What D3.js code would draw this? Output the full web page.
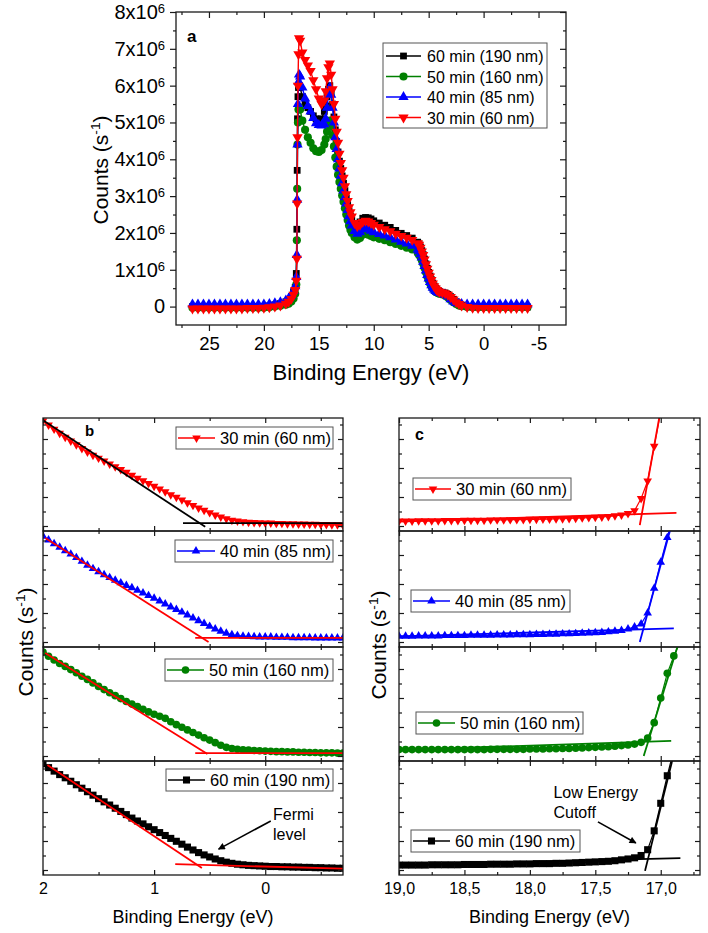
<!DOCTYPE html>
<html><head><meta charset="utf-8">
<script src="https://cdn.jsdelivr.net/npm/d3@7"></script>
<style>body{margin:0;background:#fff}svg{display:block}text{font-family:"Liberation Sans",Arial,Helvetica,sans-serif}</style>
</head><body>
<script>
// ---------------- DATA ----------------
// Panel a : binding energy (eV) and counts (x10^6 s^-1)
const aEnergy = [26.5,26,25.5,25,24.5,24,23.5,23,22.5,22,21.5,21,20.5,20,19.5,19,
  18.5,18,17.75,17.5,17.3,17.15,17.05,17.0,16.97,16.94,16.9,16.85,16.8,16.7,
  16.5,16.25,16,15.75,15.5,15.25,15,14.75,
  14.5,14.375,14.25,14.125,14,13.875,13.75,13.625,13.5,13.375,13.25,13.125,13,12.875,12.75,12.625,12.5,12.375,12.25,12.125,12,
  11.75,11.5,11.25,11,10.75,10.5,10.25,10,9.5,9,8.5,8,7.5,7,6.5,
  6,5.875,5.75,5.625,5.5,5.375,5.25,5.125,5,4.875,4.75,4.625,4.5,4.375,4.25,4.125,4,
  3.75,3.5,3.25,3,2.75,2.5,2.25,2,1.5,1,0.5,0,-0.5,-1,-1.5,-2,-2.5,-3,-3.5,-4];
const a60 = [0,0,0,0,0,0,0,0,0,0,0,0,0,0,0.02,0.05,
  0.08,0.13,0.18,0.27,0.40,0.52,0.90,2.10,3.70,5.10,5.70,5.95,6.00,5.95,
  5.70,5.50,5.40,5.30,5.18,5.10,5.05,5.10,
  5.30,5.45,5.70,5.90,6.00,5.80,5.50,5.15,4.80,4.48,4.20,3.95,3.75,3.55,3.35,3.15,2.95,2.77,2.60,2.46,2.35,
  2.23,2.20,2.30,2.40,2.42,2.41,2.38,2.33,2.27,2.21,2.15,2.07,1.99,1.93,1.86,
  1.75,1.70,1.62,1.52,1.41,1.29,1.16,1.04,0.93,0.83,0.73,0.64,0.56,0.50,0.46,0.43,0.41,
  0.39,0.37,0.33,0.27,0.20,0.13,0.08,0.04,0.00,-0.01,-0.01,-0.01,-0.01,-0.01,-0.01,-0.01,-0.01,-0.01,-0.01,-0.01];
const a50 = [-0.03,-0.03,-0.03,-0.03,-0.03,-0.03,-0.03,-0.03,-0.03,-0.03,-0.03,-0.03,-0.03,-0.03,-0.02,0.00,
  0.02,0.05,0.08,0.14,0.22,0.35,0.60,1.80,3.20,4.40,5.00,5.35,5.42,5.35,
  5.05,4.80,4.60,4.45,4.30,4.22,4.20,4.25,
  4.40,4.55,4.75,4.95,5.05,4.90,4.65,4.35,4.05,3.80,3.58,3.38,3.20,3.02,2.85,2.67,2.50,2.35,2.20,2.09,2.00,
  1.88,1.82,1.86,1.95,1.97,1.95,1.92,1.88,1.84,1.80,1.75,1.70,1.65,1.60,1.55,
  1.46,1.41,1.35,1.26,1.16,1.05,0.93,0.82,0.72,0.63,0.55,0.49,0.44,0.40,0.38,0.36,0.35,
  0.33,0.30,0.25,0.18,0.12,0.07,0.03,0.01,-0.01,-0.02,-0.02,-0.02,-0.02,-0.02,-0.02,-0.02,-0.02,-0.02,-0.02,-0.02];
const a40 = [0.06,0.06,0.06,0.06,0.06,0.06,0.06,0.06,0.06,0.06,0.06,0.06,0.06,0.06,0.07,0.09,
  0.12,0.17,0.22,0.30,0.42,0.55,0.80,1.40,2.90,4.40,5.50,6.10,6.30,6.25,
  5.95,5.65,5.45,5.30,5.12,4.98,4.93,4.92,
  4.95,5.10,5.40,5.75,5.95,5.75,5.40,5.00,4.60,4.28,4.00,3.75,3.55,3.35,3.15,2.97,2.80,2.62,2.45,2.32,2.20,
  2.05,1.98,2.02,2.10,2.12,2.10,2.06,2.02,1.97,1.93,1.88,1.82,1.76,1.71,1.65,
  1.55,1.50,1.42,1.33,1.22,1.10,0.98,0.86,0.76,0.67,0.58,0.51,0.46,0.42,0.40,0.38,0.37,
  0.35,0.32,0.27,0.20,0.14,0.10,0.08,0.07,0.06,0.06,0.06,0.06,0.06,0.06,0.06,0.06,0.06,0.06,0.06,0.06];
const a30 = [-0.05,-0.05,-0.05,-0.05,-0.05,-0.05,-0.05,-0.05,-0.05,-0.05,-0.04,-0.04,-0.04,-0.03,-0.02,0.00,
  0.03,0.08,0.13,0.21,0.32,0.45,0.70,1.30,2.80,4.60,6.00,6.85,7.29,7.22,
  6.90,6.70,6.55,6.40,6.15,5.90,5.65,5.50,
  5.60,5.85,6.20,6.50,6.60,6.30,5.90,5.50,5.10,4.75,4.45,4.15,3.90,3.70,3.50,3.27,3.05,2.87,2.70,2.56,2.45,
  2.27,2.18,2.22,2.30,2.33,2.31,2.27,2.22,2.16,2.10,2.05,1.98,1.92,1.87,1.81,
  1.72,1.68,1.60,1.50,1.40,1.28,1.15,1.03,0.92,0.82,0.72,0.63,0.55,0.50,0.45,0.42,0.40,
  0.38,0.36,0.32,0.26,0.19,0.12,0.07,0.03,-0.01,-0.03,-0.04,-0.04,-0.04,-0.04,-0.04,-0.04,-0.04,-0.04,-0.04,-0.04];
const aXTicks = [25,20,15,10,5,0,-5];
const aXMinor = [27.5,22.5,17.5,12.5,7.5,2.5,-2.5];
const aYTicks = [0,1,2,3,4,5,6,7,8];
const aYMinor = [0.5,1.5,2.5,3.5,4.5,5.5,6.5,7.5];

const seriesNames = ["60 min (190 nm)","50 min (160 nm)","40 min (85 nm)","30 min (60 nm)"];
const seriesColors = ["#000000","#008000","#0000ff","#ff0000"];
const seriesSymbols = ["square","circle","triangle","triangleDown"];

// Panel b : valence band edge (relative counts)
const bEnergy = [2.00,1.95,1.90,1.85,1.80,1.75,1.70,1.65,1.60,1.55,1.50,1.45,1.40,1.35,1.30,1.25,1.20,1.15,1.10,1.05,
  1.00,0.95,0.90,0.85,0.80,0.75,0.70,0.65,0.60,0.55,0.50,0.45,0.40,0.35,0.30,0.25,0.20,0.15,0.10,0.05,
  0.00,-0.05,-0.10,-0.15,-0.20,-0.25,-0.30,-0.35,-0.40,-0.45,-0.50,-0.55,-0.60,-0.65,-0.70];
const b30 = [3.62,3.48,3.34,3.20,3.06,2.93,2.80,2.67,2.55,2.44,2.34,2.24,2.14,2.04,1.95,1.85,1.75,1.65,1.56,1.47,
  1.37,1.28,1.18,1.08,0.99,0.90,0.80,0.71,0.62,0.54,0.46,0.38,0.31,0.25,0.20,0.17,0.15,0.13,0.12,0.11,
  0.10,0.10,0.09,0.09,0.08,0.08,0.07,0.07,0.06,0.06,0.05,0.05,0.04,0.04,0.03];
const b40 = [3.65,3.52,3.39,3.27,3.15,3.03,2.91,2.78,2.65,2.53,2.42,2.32,2.22,2.13,2.04,1.95,1.87,1.78,1.69,1.60,
  1.51,1.41,1.31,1.21,1.12,1.03,0.93,0.83,0.73,0.64,0.54,0.45,0.37,0.30,0.25,0.22,0.20,0.19,0.18,0.17,
  0.17,0.17,0.16,0.16,0.16,0.15,0.15,0.15,0.15,0.14,0.14,0.14,0.14,0.14,0.14];
const b50 = [3.58,3.44,3.31,3.19,3.09,2.98,2.87,2.75,2.64,2.52,2.40,2.29,2.18,2.08,1.98,1.88,1.79,1.70,1.61,1.52,
  1.44,1.37,1.30,1.18,1.08,0.99,0.90,0.81,0.72,0.63,0.55,0.46,0.37,0.30,0.26,0.23,0.21,0.20,0.19,0.18,
  0.17,0.16,0.15,0.15,0.14,0.14,0.13,0.13,0.12,0.12,0.11,0.11,0.11,0.10,0.10];
const b60 = [3.66,3.53,3.41,3.29,3.18,3.06,2.94,2.82,2.70,2.58,2.46,2.35,2.24,2.13,2.02,1.91,1.79,1.69,1.59,1.49,
  1.39,1.29,1.19,1.09,0.99,0.89,0.79,0.69,0.60,0.52,0.45,0.38,0.32,0.27,0.23,0.20,0.18,0.16,0.15,0.14,
  0.13,0.12,0.12,0.11,0.11,0.10,0.10,0.09,0.09,0.08,0.08,0.07,0.07,0.06,0.06];
// linear fits [ [E,v],[E,v] ] : steep edge, background
const bFit30 = [[[2.0,3.65],[0.54,-0.03]],[[0.74,0.10],[-0.7,0.10]]];
const bFit40 = [[[1.98,3.59],[0.51,0.0]],[[0.63,0.14],[-0.7,0.14]]];
const bFit50 = [[[1.98,3.55],[0.52,0.07]],[[0.63,0.10],[-0.7,0.10]]];
const bFit60 = [[[1.96,3.62],[0.57,0.07]],[[0.81,0.20],[-0.7,0.05]]];
const bXTicks = [2,1,0];
const bXMinor = [1.5,0.5,-0.5];

// Panel c : low energy cutoff (relative counts)
const cEnergy = [19.00,18.95,18.90,18.85,18.80,18.75,18.70,18.65,18.60,18.55,18.50,18.45,18.40,18.35,18.30,18.25,18.20,18.15,18.10,18.05,
  18.00,17.95,17.90,17.85,17.80,17.75,17.70,17.65,17.60,17.55,17.50,17.45,17.40,17.35,17.30,17.25,17.20,17.15,17.10,17.05,
  17.00,16.95,16.90,16.85];
const c30 = [0.17,0.17,0.17,0.18,0.18,0.18,0.18,0.19,0.19,0.19,0.20,0.20,0.20,0.20,0.21,0.21,0.21,0.22,0.22,0.22,
  0.23,0.23,0.24,0.24,0.25,0.25,0.26,0.27,0.28,0.29,0.30,0.31,0.33,0.35,0.38,0.43,0.53,0.95,1.55,2.75,3.95];
const c40 = [0.20,0.20,0.20,0.21,0.21,0.21,0.21,0.22,0.22,0.22,0.22,0.23,0.23,0.23,0.23,0.24,0.24,0.24,0.25,0.25,
  0.25,0.26,0.26,0.27,0.27,0.28,0.28,0.29,0.30,0.31,0.32,0.33,0.35,0.37,0.40,0.45,0.52,0.62,1.00,1.85,2.75,3.60,4.45];
const c50 = [0.22,0.22,0.22,0.22,0.22,0.22,0.22,0.22,0.22,0.22,0.22,0.22,0.22,0.22,0.23,0.23,0.23,0.23,0.23,0.23,
  0.24,0.24,0.24,0.25,0.25,0.26,0.26,0.27,0.28,0.29,0.30,0.31,0.32,0.34,0.36,0.38,0.41,0.47,0.62,1.15,2.00,2.85,3.45,3.95];
const c60 = [0.17,0.17,0.17,0.17,0.17,0.18,0.18,0.18,0.18,0.18,0.19,0.19,0.19,0.19,0.20,0.20,0.20,0.20,0.21,0.21,
  0.21,0.22,0.22,0.22,0.23,0.23,0.24,0.25,0.26,0.27,0.28,0.29,0.30,0.32,0.35,0.38,0.42,0.50,0.70,1.35,2.30,3.25,4.15];
const cFit30 = [[[19.0,0.15],[16.88,0.45]],[[17.16,0.03],[16.99,4.26]]];
const cFit40 = [[[19.0,0.19],[16.9,0.47]],[[17.16,0.0],[16.92,4.0]]];
const cFit50 = [[[19.0,0.21],[16.92,0.52]],[[17.13,0.0],[16.86,3.95]]];
const cFit60 = [[[19.0,0.17],[16.85,0.41]],[[17.12,-0.03],[16.9,4.0]]];
const cXTicks = [19.0,18.5,18.0,17.5,17.0];
const cXMinor = [18.75,18.25,17.75,17.25,16.75];

// ---------------- DRAWING ----------------
const AX = "#1a1a1a";
const svg = d3.select("body").append("svg").attr("width",708).attr("height",933);
const defs = svg.append("defs");

function symPath(kind,size){
  const t = kind==="square"?d3.symbolSquare:kind==="circle"?d3.symbolCircle:d3.symbolTriangle;
  return d3.symbol().type(t).size(size)();
}
function addMarkers(g,pts,kind,size,color){
  const d = symPath(kind,size);
  g.selectAll(null).data(pts).join("path").attr("d",d)
    .attr("transform",p=>`translate(${p[0]},${p[1]})${kind==="triangleDown"?" rotate(180)":""}`)
    .attr("fill",color);
}
function countsTitle(x,y,size){
  const t = svg.append("text").attr("transform",`translate(${x},${y}) rotate(-90)`)
    .attr("text-anchor","middle").attr("font-size",size).attr("fill","#000");
  t.append("tspan").text("Counts (s");
  t.append("tspan").attr("dy",-size*0.4).attr("font-size",size*0.65).text("-1");
  t.append("tspan").attr("dy",size*0.4).text(")");
}
function styleAxis(s){ s.select(".domain").remove(); s.attr("color",AX); s.selectAll("line").attr("stroke-width",1.2); }

// ---- Panel a ----
const aL=176,aR=566,aT=12,aB=325;
const ax = d3.scaleLinear().domain([28,-7.5]).range([aL,aR]);
const ay = d3.scaleLinear().domain([-0.5,8]).range([aB,aT]);
const ga = svg.append("g");
const aSeries = [a60,a50,a40,a30];
const aSizes = [46,52,46,46];
aSeries.forEach((vals,k)=>{
  const pts = aEnergy.map((e,i)=>[ax(e),ay(vals[i])]);
  ga.append("path").attr("d",d3.line()(pts)).attr("fill","none").attr("stroke",seriesColors[k]).attr("stroke-width",1.4);
  addMarkers(ga,pts,seriesSymbols[k],aSizes[k],seriesColors[k]);
});
ga.append("rect").attr("x",aL).attr("y",aT).attr("width",aR-aL).attr("height",aB-aT)
  .attr("fill","none").attr("stroke",AX).attr("stroke-width",1.3);
// bottom axis (outward)
ga.append("g").attr("transform",`translate(0,${aB})`)
  .call(d3.axisBottom(ax).tickValues(aXTicks).tickSize(6).tickPadding(6).tickFormat(d=>String(d)))
  .call(styleAxis).call(s=>s.selectAll("text").attr("font-size",18.5).attr("fill","#000").attr("font-family",null));
ga.append("g").attr("transform",`translate(0,${aB})`)
  .call(d3.axisBottom(ax).tickValues(aXMinor).tickSize(3).tickFormat("")).call(styleAxis);
// top axis (inward)
ga.append("g").attr("transform",`translate(0,${aT})`)
  .call(d3.axisBottom(ax).tickValues(aXTicks).tickSize(6).tickFormat("")).call(styleAxis);
ga.append("g").attr("transform",`translate(0,${aT})`)
  .call(d3.axisBottom(ax).tickValues(aXMinor).tickSize(3).tickFormat("")).call(styleAxis);
// left axis (outward)
ga.append("g").attr("transform",`translate(${aL},0)`)
  .call(d3.axisLeft(ay).tickValues(aYTicks).tickSize(6).tickPadding(5))
  .call(styleAxis)
  .call(s=>s.selectAll(".tick text").attr("font-size",20).attr("fill","#000").attr("font-family",null).each(function(d){
    const t=d3.select(this); t.text(null);
    if(d===0){ t.text("0"); }
    else { t.append("tspan").text(d+"x10"); t.append("tspan").attr("dy","-0.45em").attr("font-size","0.65em").text("6"); }
  }));
ga.append("g").attr("transform",`translate(${aL},0)`)
  .call(d3.axisLeft(ay).tickValues(aYMinor).tickSize(3).tickFormat("")).call(styleAxis);
// right axis (inward)
ga.append("g").attr("transform",`translate(${aR},0)`)
  .call(d3.axisLeft(ay).tickValues(aYTicks).tickSize(6).tickFormat("")).call(styleAxis);
ga.append("g").attr("transform",`translate(${aR},0)`)
  .call(d3.axisLeft(ay).tickValues(aYMinor).tickSize(3).tickFormat("")).call(styleAxis);
ga.append("text").attr("x",187).attr("y",42).attr("font-size",17).attr("font-weight","bold").text("a");
ga.append("text").attr("x",(aL+aR)/2).attr("y",380).attr("text-anchor","middle").attr("font-size",22).text("Binding Energy (eV)");
countsTitle(108,170,21);
// legend a
const lg = ga.append("g");
lg.append("rect").attr("x",383).attr("y",43).attr("width",164).attr("height",85).attr("fill","#fff").attr("stroke","#555").attr("stroke-width",1);
seriesNames.forEach((n,k)=>{
  const yy = 56 + k*20.5;
  lg.append("line").attr("x1",386).attr("x2",421).attr("y1",yy).attr("y2",yy).attr("stroke",seriesColors[k]).attr("stroke-width",1.5);
  addMarkers(lg,[[403.5,yy]],seriesSymbols[k],aSizes[k],seriesColors[k]);
  lg.append("text").attr("x",427).attr("y",yy+6).attr("font-size",16).text(n);
});

// ---- Panels b and c ----
const bounds = [418,531,647,761,875];
const bL=43,bR=343,cL=399,cR=700;
const bx = d3.scaleLinear().domain([2,-0.7]).range([bL,bR]);
const cx = d3.scaleLinear().domain([19,16.7]).range([cL,cR]);
const PXU = 29; // pixels per unit
const order = [3,2,1,0]; // top to bottom: 30,40,50,60
const bVals = [b30,b40,b50,b60], bFits=[bFit30,bFit40,bFit50,bFit60];
const cVals = [c30,c40,c50,c60], cFits=[cFit30,cFit40,cFit50,cFit60];
const mSizes = {square:50,circle:46,triangle:32,triangleDown:32};
const bLegend = [[176,427,157,220],[175,540,158,220],[165,659,168,209],[166,769,167,210]];
const cLegend = [[413,478,158,456],[411,590,159,455],[416,712,167,460],[411,830,169,455]];

function drawSub(id,xs,L,R,top,bot,energies,vals,k,fits,fitColor,leg,xMaj,xMin){
  const ys = d3.scaleLinear().domain([-5/PXU,(bot-top-5)/PXU]).range([bot,top]);
  defs.append("clipPath").attr("id",id).append("rect").attr("x",L).attr("y",top).attr("width",R-L).attr("height",bot-top);
  const g = svg.append("g");
  const dg = g.append("g").attr("clip-path",`url(#${id})`);
  const pts = vals.map((v,i)=>[xs(energies[i]),ys(v)]);
  dg.append("path").attr("d",d3.line()(pts)).attr("fill","none").attr("stroke",seriesColors[k]).attr("stroke-width",1.2);
  addMarkers(dg,pts,seriesSymbols[k],mSizes[seriesSymbols[k]],seriesColors[k]);
  fits.forEach(f=>{
    dg.append("path").attr("d",d3.line()(f.map(p=>[xs(p[0]),ys(p[1])]))).attr("fill","none").attr("stroke",fitColor).attr("stroke-width",1.8);
  });
  g.append("rect").attr("x",L).attr("y",top).attr("width",R-L).attr("height",bot-top).attr("fill","none").attr("stroke",AX).attr("stroke-width",1.3);
  const yMaj=[0,1,2,3], yMin=[0.5,1.5,2.5,3.5];
  g.append("g").attr("transform",`translate(0,${top})`).call(d3.axisBottom(xs).tickValues(xMaj).tickSize(5).tickFormat("")).call(styleAxis);
  g.append("g").attr("transform",`translate(0,${top})`).call(d3.axisBottom(xs).tickValues(xMin).tickSize(3).tickFormat("")).call(styleAxis);
  g.append("g").attr("transform",`translate(0,${bot})`).call(d3.axisTop(xs).tickValues(xMaj).tickSize(5).tickFormat("")).call(styleAxis);
  g.append("g").attr("transform",`translate(0,${bot})`).call(d3.axisTop(xs).tickValues(xMin).tickSize(3).tickFormat("")).call(styleAxis);
  g.append("g").attr("transform",`translate(${L},0)`).call(d3.axisRight(ys).tickValues(yMaj).tickSize(5).tickFormat("")).call(styleAxis);
  g.append("g").attr("transform",`translate(${L},0)`).call(d3.axisRight(ys).tickValues(yMin).tickSize(3).tickFormat("")).call(styleAxis);
  g.append("g").attr("transform",`translate(${R},0)`).call(d3.axisLeft(ys).tickValues(yMaj).tickSize(5).tickFormat("")).call(styleAxis);
  g.append("g").attr("transform",`translate(${R},0)`).call(d3.axisLeft(ys).tickValues(yMin).tickSize(3).tickFormat("")).call(styleAxis);
  // legend
  const [lx,ly,lw,tx] = leg;
  const lgg = g.append("g");
  lgg.append("rect").attr("x",lx).attr("y",ly).attr("width",lw).attr("height",22).attr("fill","#fff").attr("stroke","#555").attr("stroke-width",1);
  const my = ly+11;
  lgg.append("line").attr("x1",lx+2).attr("x2",tx-5).attr("y1",my).attr("y2",my).attr("stroke",seriesColors[k]).attr("stroke-width",1.3);
  addMarkers(lgg,[[(lx+2+tx-5)/2,my]],seriesSymbols[k],mSizes[seriesSymbols[k]],seriesColors[k]);
  lgg.append("text").attr("x",tx).attr("y",my+6).attr("font-size",16.5).text(seriesNames[k]);
  return ys;
}

let bYs=[], cYs=[];
order.forEach((k,i)=>{
  bYs.push(drawSub("cb"+i,bx,bL,bR,bounds[i],bounds[i+1],bEnergy,bVals[i],k,bFits[i],i===0?"#000000":"#ff0000",bLegend[i],bXTicks,bXMinor));
  cYs.push(drawSub("cc"+i,cx,cL,cR,bounds[i],bounds[i+1],cEnergy,cVals[i],k,cFits[i],seriesColors[k],cLegend[i],cXTicks,cXMinor));
});

// bottom tick labels
svg.append("g").attr("transform",`translate(0,${bounds[4]})`)
  .call(d3.axisBottom(bx).tickValues(bXTicks).tickSize(0).tickPadding(8).tickFormat(d=>String(d)))
  .call(styleAxis).call(s=>s.selectAll("text").attr("font-size",16).attr("fill","#000").attr("font-family",null));
svg.append("g").attr("transform",`translate(0,${bounds[4]})`)
  .call(d3.axisBottom(cx).tickValues(cXTicks).tickSize(0).tickPadding(8).tickFormat(d=>d3.format(".1f")(d).replace(".",",")))
  .call(styleAxis).call(s=>s.selectAll("text").attr("font-size",16).attr("fill","#000").attr("font-family",null));

svg.append("text").attr("x",(bL+bR)/2).attr("y",923).attr("text-anchor","middle").attr("font-size",18).text("Binding Energy (eV)");
svg.append("text").attr("x",(cL+cR)/2).attr("y",923).attr("text-anchor","middle").attr("font-size",18).text("Binding Energy (eV)");
countsTitle(33,642,21);
countsTitle(386,645,21);
svg.append("text").attr("x",85).attr("y",436).attr("font-size",15).attr("font-weight","bold").text("b");
svg.append("text").attr("x",415).attr("y",440).attr("font-size",16).attr("font-weight","bold").text("c");

// annotations
defs.append("marker").attr("id","arr").attr("viewBox","0 0 10 10").attr("refX",9).attr("refY",5)
  .attr("markerWidth",9).attr("markerHeight",7).attr("markerUnits","userSpaceOnUse").attr("orient","auto")
  .append("path").attr("d","M0,0 L10,5 L0,10 z").attr("fill","#000");
const yb4 = bYs[3], yc4 = cYs[3];
svg.append("line").attr("x1",bx(-0.05)).attr("y1",yb4(1.69)).attr("x2",bx(0.42)).attr("y2",yb4(0.72))
  .attr("stroke","#000").attr("stroke-width",1.6).attr("marker-end","url(#arr)");
svg.append("text").attr("x",bx(-0.07)).attr("y",820).attr("font-size",16).text("Fermi");
svg.append("text").attr("x",bx(-0.07)).attr("y",840).attr("font-size",16).text("level");
svg.append("line").attr("x1",cx(17.48)).attr("y1",yc4(1.66)).attr("x2",cx(17.19)).attr("y2",yc4(0.93))
  .attr("stroke","#000").attr("stroke-width",1.6).attr("marker-end","url(#arr)");
svg.append("text").attr("x",cx(17.82)).attr("y",798).attr("font-size",16).text("Low Energy");
svg.append("text").attr("x",cx(17.82)).attr("y",818).attr("font-size",16).text("Cutoff");
</script>
</body></html>
